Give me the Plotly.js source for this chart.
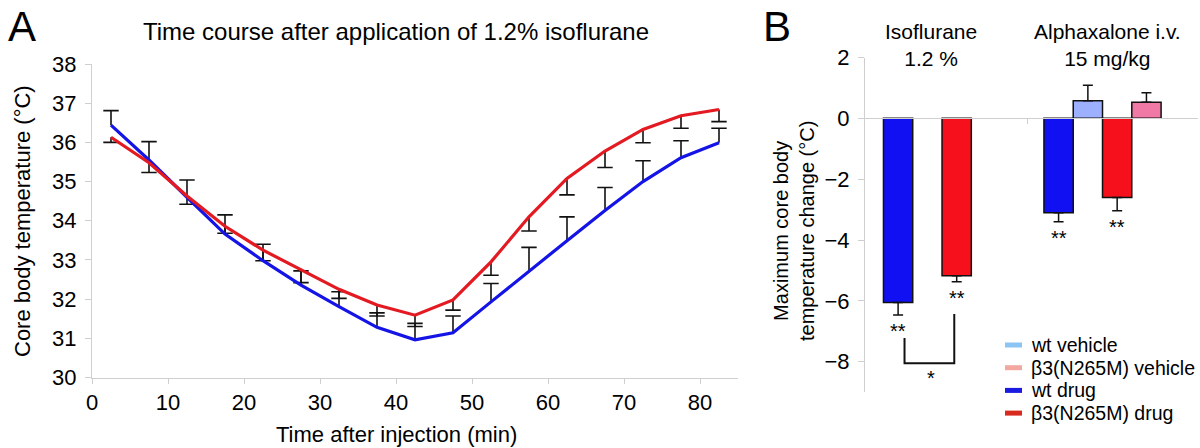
<!DOCTYPE html>
<html><head><meta charset="utf-8">
<script src="https://cdn.plot.ly/plotly-3.0.1.min.js"></script>
<style>html,body{margin:0;padding:0;background:#fff;} #chart{width:1200px;height:448px;}</style>
</head><body><div id="chart"></div>
<script>
// ---------- Panel A data ----------
const timeMin = [2.5, 7.5, 12.5, 17.5, 22.5, 27.5, 32.5, 37.5, 42.5, 47.5, 52.5, 57.5, 62.5, 67.5, 72.5, 77.5, 82.5];
const wtTemp = [36.44, 35.55, 34.60, 33.66, 32.98, 32.36, 31.81, 31.28, 30.96, 31.14, 31.93, 32.72, 33.49, 34.26, 35.00, 35.61, 35.99];
const wtTempErrUp = [0.37, 0.47, 0.44, 0.49, 0.42, 0.36, 0.38, 0.37, 0.42, 0.43, 0.47, 0.60, 0.61, 0.59, 0.53, 0.43, 0.37];
const mutTemp = [36.13, 35.48, 34.63, 33.86, 33.25, 32.74, 32.25, 31.85, 31.59, 31.98, 32.95, 34.10, 35.08, 35.78, 36.33, 36.68, 36.84];
const mutTempErrDown = [0.13, 0.25, 0.21, 0.18, 0.27, 0.32, 0.23, 0.28, 0.29, 0.26, 0.34, 0.36, 0.42, 0.42, 0.34, 0.32, 0.31];
const xTicksA = [0, 10, 20, 30, 40, 50, 60, 70, 80];
const yTicksA = [30, 31, 32, 33, 34, 35, 36, 37, 38];

// ---------- Panel B data ----------
const groupX = [0, 1];
const groupLabels = ['Isoflurane<br>1.2 %', 'Alphaxalone i.v.<br>15 mg/kg'];
const wtVehicle = [null, 0.58];
const wtVehicleErr = [null, 0.51];
const mutVehicle = [null, 0.53];
const mutVehicleErr = [null, 0.31];
const wtDrug = [-6.05, -3.10];
const wtDrugErr = [0.41, 0.30];
const mutDrug = [-5.17, -2.60];
const mutDrugErr = [0.20, 0.44];
const wtDrugSig = ['**', '**'];
const mutDrugSig = ['**', '**'];
const yTicksB = [-8, -6, -4, -2, 0, 2];
const seriesNames = ['wt vehicle', 'β3(N265M) vehicle', 'wt drug', 'β3(N265M) drug'];

const FONT = 'Liberation Sans, Arial, Helvetica, sans-serif';
const W = 1200, H = 448;
const px = v => v / W, py = v => (H - v) / H;

// Panel A geometry
const axA = {x0: 92, x1: 738, yTop: 64, yBot: 377.5};
// Panel B geometry
const axB = {x0: 865, x1: 1198, yTop: 57.5, yBot: 392.2};
const rangeB = [-9, 2];
const posZeroB = py(axB.yBot) + (0 - rangeB[0]) / (rangeB[1] - rangeB[0]) * (py(axB.yTop) - py(axB.yBot));

const BLUE = '#1414e6', RED = '#e31a22';
const zeros = timeMin.map(() => 0);

const traces = [];
// Error bars panel A (drawn beneath the lines)
traces.push({
  type: 'scatter', mode: 'markers', x: timeMin,
  y: wtTemp.map((v, i) => v + wtTempErrUp[i]),
  marker: {symbol: 'line-ew', size: 11, color: '#111', line: {color: '#111', width: 1.6}},
  error_y: {type: 'data', symmetric: false, array: zeros, arrayminus: wtTempErrUp, width: 0, thickness: 1.6, color: '#111'},
  showlegend: false, hoverinfo: 'skip', xaxis: 'x', yaxis: 'y'
});
traces.push({
  type: 'scatter', mode: 'markers', x: timeMin,
  y: mutTemp.map((v, i) => v - mutTempErrDown[i]),
  marker: {symbol: 'line-ew', size: 11, color: '#111', line: {color: '#111', width: 1.6}},
  error_y: {type: 'data', symmetric: false, array: mutTempErrDown, arrayminus: zeros, width: 0, thickness: 1.6, color: '#111'},
  showlegend: false, hoverinfo: 'skip', xaxis: 'x', yaxis: 'y'
});
traces.push({type: 'scatter', mode: 'lines', x: timeMin, y: wtTemp, line: {color: BLUE, width: 3.2}, showlegend: false, xaxis: 'x', yaxis: 'y', name: 'wt'});
traces.push({type: 'scatter', mode: 'lines', x: timeMin, y: mutTemp, line: {color: RED, width: 3.2}, showlegend: false, xaxis: 'x', yaxis: 'y', name: 'β3(N265M)'});

// Bars panel B (group order: wt drug, wt vehicle, mut drug, mut vehicle)
const barLine = {color: '#111', width: 1.5};
const errDown = e => ({type: 'data', symmetric: false, array: e.map(v => v == null ? null : 0), arrayminus: e, width: 5, thickness: 1.5, color: '#111'});
const errUp = e => ({type: 'data', symmetric: false, array: e, arrayminus: e.map(v => v == null ? null : 0), width: 5, thickness: 1.5, color: '#111'});
traces.push({type: 'bar', x: groupX, y: wtDrug, marker: {color: '#1010f2', line: barLine}, error_y: errDown(wtDrugErr), xaxis: 'x2', yaxis: 'y2', showlegend: false, name: seriesNames[2]});
traces.push({type: 'bar', x: groupX, y: wtVehicle, marker: {color: '#9cb0ff', line: barLine}, error_y: errUp(wtVehicleErr), xaxis: 'x2', yaxis: 'y2', showlegend: false, name: seriesNames[0]});
traces.push({type: 'bar', x: groupX, y: mutDrug, marker: {color: '#f6101c', line: barLine}, error_y: errDown(mutDrugErr), xaxis: 'x2', yaxis: 'y2', showlegend: false, name: seriesNames[3]});
traces.push({type: 'bar', x: groupX, y: mutVehicle, marker: {color: '#f07aa5', line: barLine}, error_y: errUp(mutVehicleErr), xaxis: 'x2', yaxis: 'y2', showlegend: false, name: seriesNames[1]});

// bar slot offsets for annotations
const bargap = 0.27, nSlots = 4, slotW = (1 - bargap) / nSlots;
const slotX = (g, s) => groupX[g] + (s - 1.5) * slotW;

const annotations = [
  {text: 'A', xref: 'paper', yref: 'paper', x: px(22), y: py(26), xanchor: 'center', yanchor: 'middle', showarrow: false, font: {family: FONT, size: 42, color: '#000'}},
  {text: 'B', xref: 'paper', yref: 'paper', x: px(777), y: py(26), xanchor: 'center', yanchor: 'middle', showarrow: false, font: {family: FONT, size: 42, color: '#000'}},
  {text: 'Time after injection (min)', xref: 'x', yref: 'paper', x: 40, y: py(434), xanchor: 'center', yanchor: 'middle', showarrow: false, font: {family: FONT, size: 22, color: '#000'}},
  {text: 'Core body temperature (°C)', xref: 'paper', yref: 'paper', x: px(22), y: py(221), textangle: -90, xanchor: 'center', yanchor: 'middle', showarrow: false, font: {family: FONT, size: 22, color: '#000'}},
  {text: 'Maximum core body<br>temperature change (°C)', xref: 'paper', yref: 'paper', x: px(794), y: py(231), textangle: -90, xanchor: 'center', yanchor: 'middle', showarrow: false, font: {family: FONT, size: 20, color: '#000'}},
];
groupLabels.forEach((t, g) => annotations.push({
  text: t, xref: 'x2', yref: 'paper', x: groupX[g] + (g === 0 ? -0.07 : 0.034), y: py(45), xanchor: 'center', yanchor: 'middle', showarrow: false, font: {family: FONT, size: 21, color: '#000'}
}));
groupX.forEach((gx, g) => {
  annotations.push({text: wtDrugSig[g], xref: 'x2', yref: 'y2', x: slotX(g, 0), y: wtDrug[g] - wtDrugErr[g], xanchor: 'center', yanchor: 'top', yshift: -3, showarrow: false, font: {family: FONT, size: 20, color: '#000'}});
  annotations.push({text: mutDrugSig[g], xref: 'x2', yref: 'y2', x: slotX(g, 2), y: mutDrug[g] - mutDrugErr[g], xanchor: 'center', yanchor: 'top', yshift: -3, showarrow: false, font: {family: FONT, size: 20, color: '#000'}});
});
// comparison star between isoflurane groups
annotations.push({text: '*', xref: 'x2', yref: 'y2', x: (slotX(0, 0) + slotX(0, 2)) / 2 + 0.02, y: -8.1, xanchor: 'center', yanchor: 'top', showarrow: false, font: {family: FONT, size: 20, color: '#000'}});

const bx0 = slotX(0, 0) + 0.04, bx1 = slotX(0, 2) - 0.015;
const shapes = [{
  type: 'path', xref: 'x2', yref: 'y2',
  path: `M ${bx0} -7.22 L ${bx0} -8.05 L ${bx1} -8.05 L ${bx1} -6.43`,
  line: {color: '#111', width: 2}
}];

// Legend (line swatches with tight row spacing, as in the original figure)
const legendColors = ['#8cc4f4', '#f2a8a0', '#1a1ae0', '#d92a1e'];
const legTop = 345, legStep = 22.7, legSw0 = 1005, legSw1 = 1022, legText = 1029;
seriesNames.forEach((n, i) => {
  const yy = py(legTop + i * legStep);
  shapes.push({type: 'line', xref: 'paper', yref: 'paper', x0: px(legSw0), x1: px(legSw1), y0: yy, y1: yy, line: {color: legendColors[i], width: 5}});
  annotations.push({text: n, xref: 'paper', yref: 'paper', x: px(legText), y: yy, xanchor: 'left', yanchor: 'middle', showarrow: false, font: {family: FONT, size: 19.5, color: '#000'}});
});

const axisCommon = {showgrid: false, zeroline: false, showline: true, linecolor: '#cfcfcf', linewidth: 1, ticks: 'outside', tickcolor: '#cfcfcf', ticklen: 6, tickwidth: 1, tickfont: {family: FONT, size: 22, color: '#000'}};

const layout = {
  width: W, height: H,
  margin: {l: 0, r: 0, t: 0, b: 0},
  paper_bgcolor: '#fff', plot_bgcolor: 'rgba(0,0,0,0)',
  font: {family: FONT, color: '#000'},
  title: {text: 'Time course after application of 1.2% isoflurane', x: px(396), xanchor: 'center', y: py(32), yanchor: 'middle', font: {family: FONT, size: 24, color: '#000'}},
  xaxis: Object.assign({}, axisCommon, {domain: [px(axA.x0), px(axA.x1)], range: [0, 85], tickvals: xTicksA, anchor: 'y', ticklen: 5}),
  yaxis: Object.assign({}, axisCommon, {domain: [py(axA.yBot), py(axA.yTop)], range: [30, 38], tickvals: yTicksA, anchor: 'x', ticklabelstandoff: 4}),
  xaxis2: Object.assign({}, axisCommon, {domain: [px(axB.x0), px(axB.x1)], range: [-0.48, 1.595], anchor: 'free', position: posZeroB, tickvals: [0.53], showticklabels: false, ticklen: 5}),
  yaxis2: Object.assign({}, axisCommon, {domain: [py(axB.yBot), py(axB.yTop)], range: rangeB, tickvals: yTicksB, anchor: 'x2', ticklabelstandoff: 4}),
  barmode: 'group', bargap: bargap, bargroupgap: 0,
  showlegend: false,
  annotations: annotations,
  shapes: shapes
};

Plotly.newPlot('chart', traces, layout, {staticPlot: true, displayModeBar: false});
</script>
</body></html>
